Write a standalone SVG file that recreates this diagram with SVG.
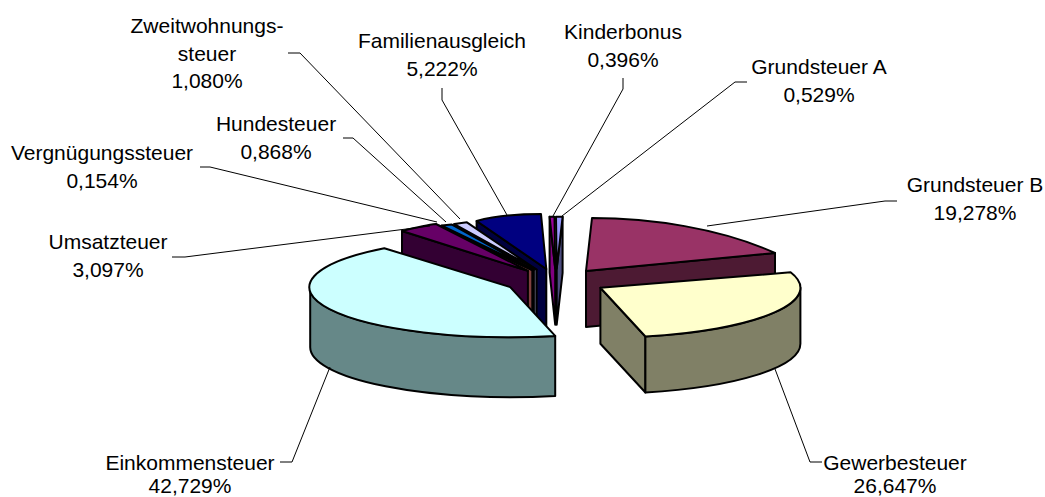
<svg xmlns="http://www.w3.org/2000/svg" width="1045" height="497" viewBox="0 0 1045 497">
<style>
.s{stroke:#000;stroke-width:2;stroke-linejoin:round}
.lbl{font-family:"Liberation Sans",Arial,sans-serif;font-size:21px;fill:#000;text-anchor:middle}
.ld{fill:none;stroke:#000;stroke-width:1}
</style>
<rect width="1045" height="497" fill="#fff"/>
<g id="grundsteuer-a">
<polygon class="s" fill="#4D4D80" points="556.7,268.7 562.6,216.8 562.6,272.8 556.7,324.7"/>
<polygon class="s" fill="#9999FF" points="556.7,268.7 556,216.8 562.6,216.8"/>
</g>
<g id="kinderbonus">
<polygon class="s" fill="#800080" points="549.6,216.7 555.2,268.7 555.2,324.7 549.6,272.7"/>
<polygon class="s" fill="#990099" points="555.2,268.7 549.6,216.7 554.5,216.7"/>
</g>
<g id="familienausgleich">
<polygon class="s" fill="#000040" points="546.3,269 476.6,221 476.6,278 546.3,326"/>
<path class="s" fill="#000080" d="M546.3,269 L476.6,221 C495,216 520,214 541,214 Z"/>
</g>
<g id="zweitwohnungssteuer">
<polygon class="s" fill="#666680" points="536.6,269.7 454.3,224.1 454.3,281.1 536.6,326.7"/>
<polygon class="s" fill="#CCCCFF" points="536.6,269.7 454.3,224.1 466.9,222.3"/>
</g>
<g id="hundesteuer">
<polygon class="s" fill="#003366" points="533.8,270 441.8,225.6 441.8,282.6 533.8,327"/>
<polygon class="s" fill="#0066CC" points="533.8,270 441.8,225.6 451.5,224.4"/>
</g>
<g id="vergnuegungssteuer">
<polygon class="s" fill="#804040" points="532.3,270.2 438.4,226.1 438.4,283.1 532.3,327.2"/>
<polygon class="s" fill="#FF8080" points="532.3,270.2 438.4,226.1 440.3,225.8"/>
</g>
<g id="umsatzsteuer">
<polygon class="s" fill="#330033" points="527.9,270.9 402,231 402,289 527.9,327.9"/>
<path class="s" fill="#660066" d="M527.9,270.9 L402,231 C414,228 426,225 436,224 Z"/>
</g>
<g id="grundsteuer-b">
<polygon class="s" fill="#4D1A33" points="586,271 775,253 775,309 586,327"/>
<path class="s" fill="#993366" d="M586,271 L592,218 C650,218 720,228 775,253 Z"/>
</g>
<g id="einkommensteuer">
<path class="s" fill="#668888" d="M310.2,287.1 A200,50 0 0,0 555.2,335.9 L555.2,395.9 A200,50 0 0,1 310.2,347.1 Z"/>
<path class="s" fill="#CCFFFF" d="M510.2,287.1 L384.3,248.2 A200,50 0 0,0 555.2,335.9 Z"/>
</g>
<g id="gewerbesteuer">
<polygon class="s" fill="#808066" points="600.4,287.8 645.4,336.5 645.4,392.5 600.4,343.8"/>
<path class="s" fill="#808066" d="M800.4,287.8 A200,50 0 0,1 645.4,336.5 L645.4,392.5 A200,50 0 0,0 800.4,343.8 Z"/>
<path class="s" fill="#FFFFCC" d="M600.4,287.8 L790.6,272.3 A200,50 0 0,1 645.4,336.5 Z"/>
</g>
<g id="connectors">
<polyline class="ld" points="288,53 300,53 460,219"/>
<polyline class="ld" points="442,88 442,100 507,215"/>
<polyline class="ld" points="623,78 623,89 553,216"/>
<polyline class="ld" points="747,82 735,82 562,216"/>
<polyline class="ld" points="897,201 885,201 707,226"/>
<polyline class="ld" points="343,138 353,138 446,222"/>
<polyline class="ld" points="200,167 210,167 437,222"/>
<polyline class="ld" points="172,257 185,257 430,226"/>
<polyline class="ld" points="280,462 292,462 330,367"/>
<polyline class="ld" points="822,462 810,462 775,369"/>
</g>
<g id="labels">
<text class="lbl" x="207" y="33">Zweitwohnungs-</text>
<text class="lbl" x="207" y="60.5">steuer</text>
<text class="lbl" x="207" y="88">1,080%</text>
<text class="lbl" x="442" y="48">Familienausgleich</text>
<text class="lbl" x="442" y="76">5,222%</text>
<text class="lbl" x="623" y="39">Kinderbonus</text>
<text class="lbl" x="623" y="67">0,396%</text>
<text class="lbl" x="819" y="74">Grundsteuer A</text>
<text class="lbl" x="819" y="102">0,529%</text>
<text class="lbl" x="975" y="192">Grundsteuer B</text>
<text class="lbl" x="975" y="220">19,278%</text>
<text class="lbl" x="276" y="131">Hundesteuer</text>
<text class="lbl" x="276" y="159">0,868%</text>
<text class="lbl" x="102" y="160">Vergnügungssteuer</text>
<text class="lbl" x="102" y="188">0,154%</text>
<text class="lbl" x="108" y="249">Umsatzteuer</text>
<text class="lbl" x="108" y="277">3,097%</text>
<text class="lbl" x="190" y="470">Einkommensteuer</text>
<text class="lbl" x="190" y="493">42,729%</text>
<text class="lbl" x="895" y="470">Gewerbesteuer</text>
<text class="lbl" x="895" y="493">26,647%</text>
</g>
</svg>
